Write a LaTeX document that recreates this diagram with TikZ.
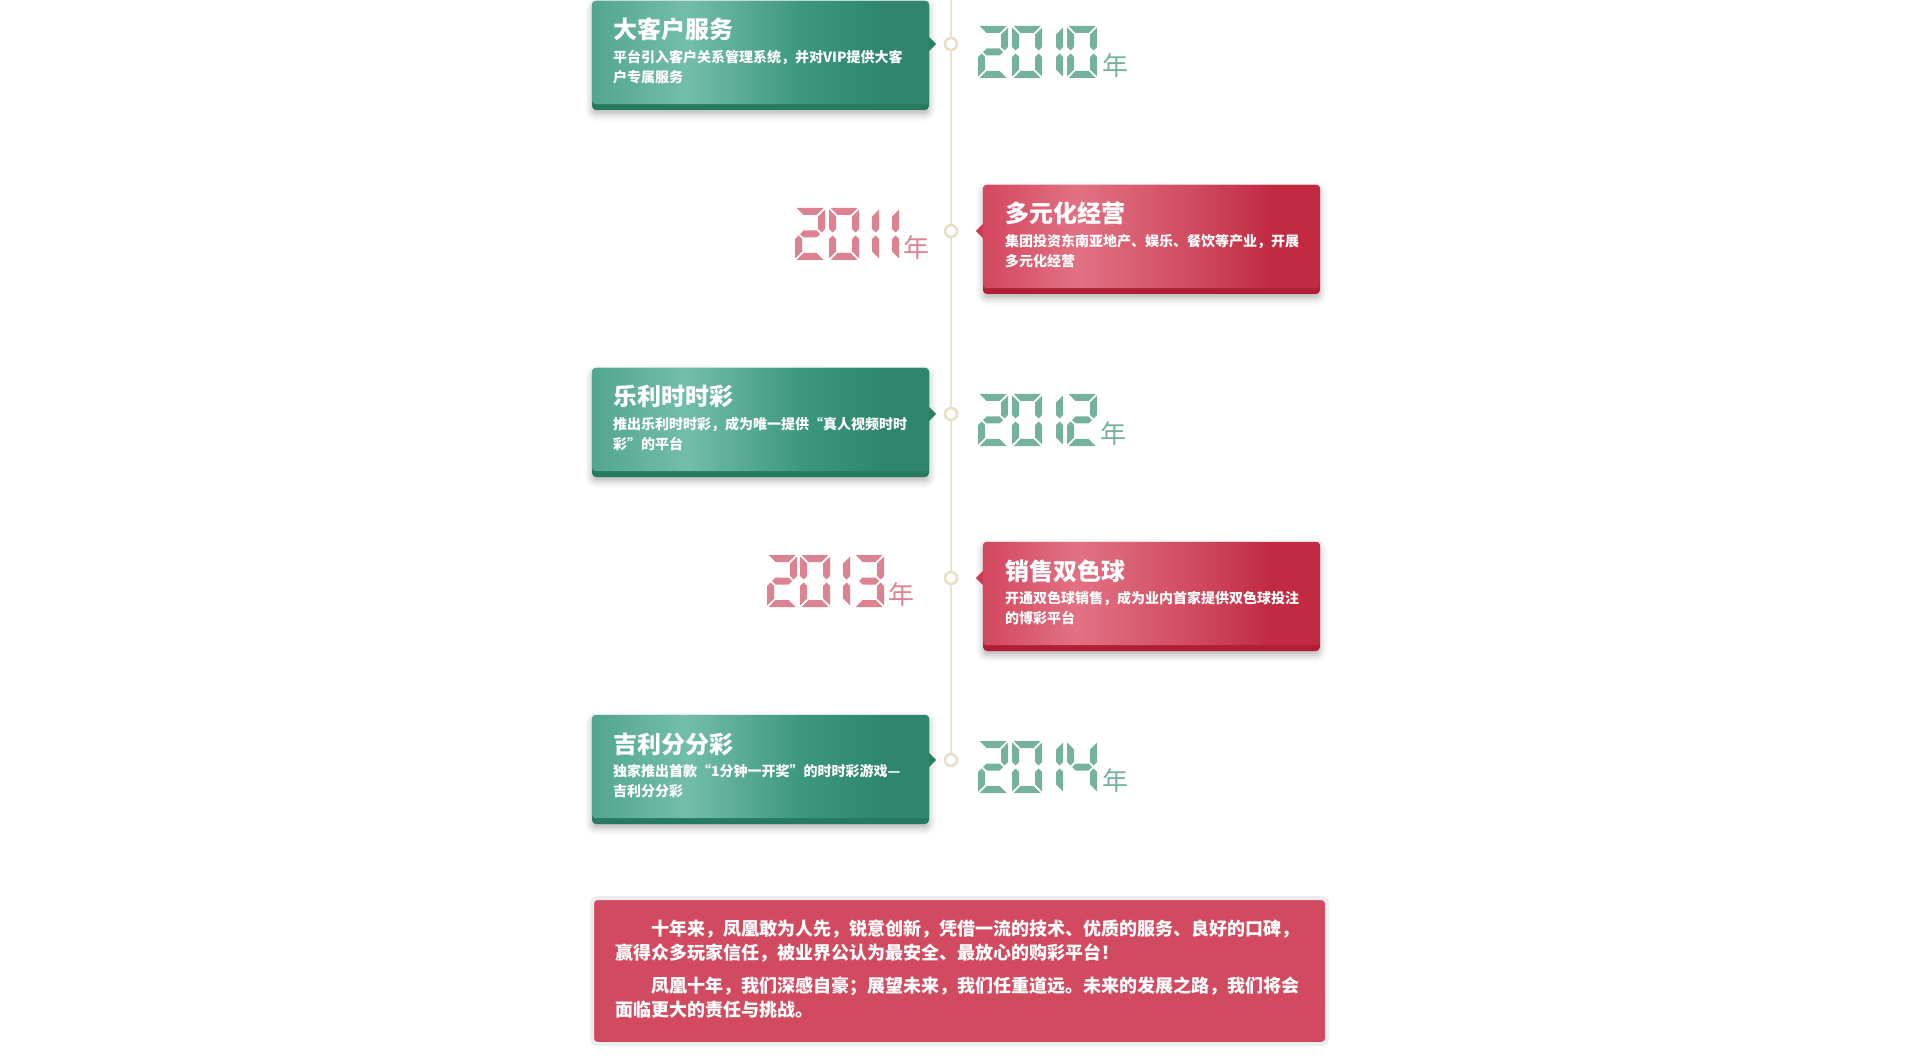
\documentclass[tikz,border=0pt]{standalone}
\usepackage{fontspec}
\newfontfamily\cjk{Noto Sans CJK SC}
\usetikzlibrary{positioning,calc,shadows.blur}
\definecolor{gLeft}{HTML}{52A68D}
\definecolor{gHigh}{HTML}{73BEA9}
\definecolor{gMid}{HTML}{3C987C}
\definecolor{gRight}{HTML}{2E876C}
\definecolor{gStrip}{HTML}{267A60}
\definecolor{gTip}{HTML}{2B7D63}
\definecolor{rLeft}{HTML}{D2475E}
\definecolor{rHigh}{HTML}{E27183}
\definecolor{rMid}{HTML}{D04B60}
\definecolor{rRight}{HTML}{C12A41}
\definecolor{rStrip}{HTML}{B01F35}
\definecolor{rTip}{HTML}{C93C52}
\definecolor{yrGreen}{HTML}{74B29E}
\definecolor{yrRed}{HTML}{DC8291}
\definecolor{lineCol}{HTML}{EAE2CB}
\definecolor{dotCol}{HTML}{E8DEC2}
\definecolor{sumRed}{HTML}{D24A5F}
\definecolor{sumRim}{HTML}{EEEEEE}
\pgfdeclarehorizontalshading{greenface}{100bp}{color(0bp)=(gLeft); color(25bp)=(gLeft); color(39bp)=(gHigh); color(56bp)=(gMid); color(68bp)=(gRight); color(100bp)=(gRight)}
\pgfdeclarehorizontalshading{redface}{100bp}{color(0bp)=(rLeft); color(25bp)=(rLeft); color(39bp)=(rHigh); color(56bp)=(rMid); color(68bp)=(rRight); color(100bp)=(rRight)}
\tikzset{
  gbox/.style ={rectangle,rounded corners=4pt,minimum width=337pt,minimum height=109pt,inner sep=0pt,fill=gStrip,
                blur shadow={shadow xshift=0pt,shadow yshift=-4pt,shadow blur radius=7pt,shadow opacity=30}},
  rbox/.style ={gbox,fill=rStrip},
  gface/.style={shading=greenface,rounded corners=4pt},
  rface/.style={shading=redface,rounded corners=4pt},
  ttl/.style  ={anchor=base west,inner sep=0pt,text=white,font=\cjk\bfseries\fontsize{24}{28}\selectfont},
  desc/.style ={anchor=north west,inner sep=0pt,text=white,align=left,font=\cjk\bfseries\fontsize{14}{20}\selectfont},
  dot/.style  ={circle,draw=dotCol,line width=2.5pt,fill=white,minimum size=12pt,inner sep=0pt},
  tline/.style={lineCol,line width=2.5pt},
  nian/.style ={anchor=south west,inner sep=0pt,font=\cjk\fontsize{26}{28}\selectfont},
  lcdg/.style ={fill=yrGreen},
  lcdr/.style ={fill=yrRed},
  sumbox/.style={rectangle,rounded corners=5pt,draw=sumRim,line width=4pt,fill=sumRed,minimum width=735pt,minimum height=146pt},
  sumtxt/.style={anchor=north west,inner sep=0pt,text=white,align=left,font=\cjk\bfseries\fontsize{18}{24}\selectfont},
  % seven-segment pieces, origin top left, y downwards
  sa/.pic={\fill (1.5,0) -- (28.5,0) -- (21.5,7) -- (8.5,7) -- cycle;},
  sb/.pic={\fill (30,1.5) -- (30,21) -- (26.5,24.5) -- (23,21) -- (23,8.5) -- cycle;},
  sc/.pic={\fill (30,50.5) -- (30,31) -- (26.5,27.5) -- (23,31) -- (23,43.5) -- cycle;},
  sd/.pic={\fill (1.5,52) -- (28.5,52) -- (21.5,45) -- (8.5,45) -- cycle;},
  se/.pic={\fill (0,50.5) -- (0,31) -- (3.5,27.5) -- (7,31) -- (7,43.5) -- cycle;},
  sf/.pic={\fill (0,1.5) -- (0,21) -- (3.5,24.5) -- (7,21) -- (7,8.5) -- cycle;},
  sg/.pic={\fill (5,26) -- (8.5,22.5) -- (21.5,22.5) -- (25,26) -- (21.5,29.5) -- (8.5,29.5) -- cycle;},
  d0/.pic={\pic{sa};\pic{sb};\pic{sc};\pic{sd};\pic{se};\pic{sf};},
  d1/.pic={\pic{sb};\pic{sc};},
  d2/.pic={\pic{sa};\pic{sb};\pic{sg};\pic{se};\pic{sd};},
  d3/.pic={\pic{sa};\pic{sb};\pic{sg};\pic{sc};\pic{sd};},
  d4/.pic={\pic{sf};\pic{sg};\pic{sb};\pic{sc};},
}

\begin{document}
\begin{tikzpicture}[x=1pt,y=-1pt]
  \useasboundingbox (0,0) rectangle (1920,1064);
  % ---- timeline ----
  \coordinate (top) at (951,0);
  \coordinate (bot) at (951,760);
  \draw[tline] (top) -- (bot);
  \node[dot] (c10) at (951,44) {};
  \node[dot] (c11) at (951,231) {};
  \node[dot] (c12) at (951,414) {};
  \node[dot] (c13) at (951,578) {};
  \node[dot] (c14) at (bot) {};

  % ---- 2010 ----
  \node[gbox] (b10) at (760.5,55.5) {};
  \shade[gface] (b10.north west) rectangle ([yshift=6pt]b10.south east);
  \fill[gTip] ($(b10.east |- c10)+(0,-7)$) -- ($(b10.east |- c10)+(7,0)$) -- ($(b10.east |- c10)+(0,7)$) -- cycle;
  \node[ttl] (t10) at (613,39) {大客户服务};
  \node[desc] (d10) at (613,50) {平台引入客户关系管理系统，并对VIP提供大客\\户专属服务};
  \pic[lcdg] at (978,26) {d2};
  \pic[lcdg] at (1012,26) {d0};
  \pic[lcdg] at (1033,26) {d1};
  \pic[lcdg] at (1067,26) {d0};
  \node[nian,yrGreen] (n10) at (1102,78) {年};

  % ---- 2011 ----
  \node[rbox] (b11) at (1151.5,239.5) {};
  \shade[rface] (b11.north west) rectangle ([yshift=6pt]b11.south east);
  \fill[rTip] ($(b11.west |- c11)+(0,-7)$) -- ($(b11.west |- c11)+(-7,0)$) -- ($(b11.west |- c11)+(0,7)$) -- cycle;
  \node[ttl] (t11) at (1005,223) {多元化经营};
  \node[desc] (d11) at (1005,234) {集团投资东南亚地产、娱乐、餐饮等产业，开展\\多元化经营};
  \pic[lcdr] at (795,208) {d2};
  \pic[lcdr] at (829,208) {d0};
  \pic[lcdr] at (849,208) {d1};
  \pic[lcdr] at (869,208) {d1};
  \node[nian,yrRed] (n11) at (903,260) {年};

  % ---- 2012 ----
  \node[gbox] (b12) at (760.5,422.5) {};
  \shade[gface] (b12.north west) rectangle ([yshift=6pt]b12.south east);
  \fill[gTip] ($(b12.east |- c12)+(0,-7)$) -- ($(b12.east |- c12)+(7,0)$) -- ($(b12.east |- c12)+(0,7)$) -- cycle;
  \node[ttl] (t12) at (613,406) {乐利时时彩};
  \node[desc] (d12) at (613,417) {推出乐利时时彩，成为唯一提供“真人视频时时\\彩”的平台};
  \pic[lcdg] at (978,394) {d2};
  \pic[lcdg] at (1012,394) {d0};
  \pic[lcdg] at (1033,394) {d1};
  \pic[lcdg] at (1067,394) {d2};
  \node[nian,yrGreen] (n12) at (1100,446) {年};

  % ---- 2013 ----
  \node[rbox] (b13) at (1151.5,596.5) {};
  \shade[rface] (b13.north west) rectangle ([yshift=6pt]b13.south east);
  \fill[rTip] ($(b13.west |- c13)+(0,-7)$) -- ($(b13.west |- c13)+(-7,0)$) -- ($(b13.west |- c13)+(0,7)$) -- cycle;
  \node[ttl] (t13) at (1005,580) {销售双色球};
  \node[desc] (d13) at (1005,591) {开通双色球销售，成为业内首家提供双色球投注\\的博彩平台};
  \pic[lcdr] at (767,555) {d2};
  \pic[lcdr] at (800,555) {d0};
  \pic[lcdr] at (820,555) {d1};
  \pic[lcdr] at (854,555) {d3};
  \node[nian,yrRed] (n13) at (888,607) {年};

  % ---- 2014 ----
  \node[gbox] (b14) at (760.5,769.5) {};
  \shade[gface] (b14.north west) rectangle ([yshift=6pt]b14.south east);
  \fill[gTip] ($(b14.east |- c14)+(0,-7)$) -- ($(b14.east |- c14)+(7,0)$) -- ($(b14.east |- c14)+(0,7)$) -- cycle;
  \node[ttl] (t14) at (613,753) {吉利分分彩};
  \node[desc] (d14) at (613,764) {独家推出首款“1分钟一开奖”的时时彩游戏—\\吉利分分彩};
  \pic[lcdg] at (978,741) {d2};
  \pic[lcdg] at (1012,741) {d0};
  \pic[lcdg] at (1033,741) {d1};
  \pic[lcdg] at (1067,741) {d4};
  \node[nian,yrGreen] (n14) at (1102,793) {年};

  % ---- summary ----
  \node[sumbox] (sum) at (959.5,971) {};
  \node[sumtxt] (st) at (615,920)
        {\hspace*{2em}十年来，凤凰敢为人先，锐意创新，凭借一流的技术、优质的服务、良好的口碑，\\
         赢得众多玩家信任，被业界公认为最安全、最放心的购彩平台！\\[9pt]
         \hspace*{2em}凤凰十年，我们深感自豪；展望未来，我们任重道远。未来的发展之路，我们将会\\
         面临更大的责任与挑战。};
\end{tikzpicture}
\end{document}
